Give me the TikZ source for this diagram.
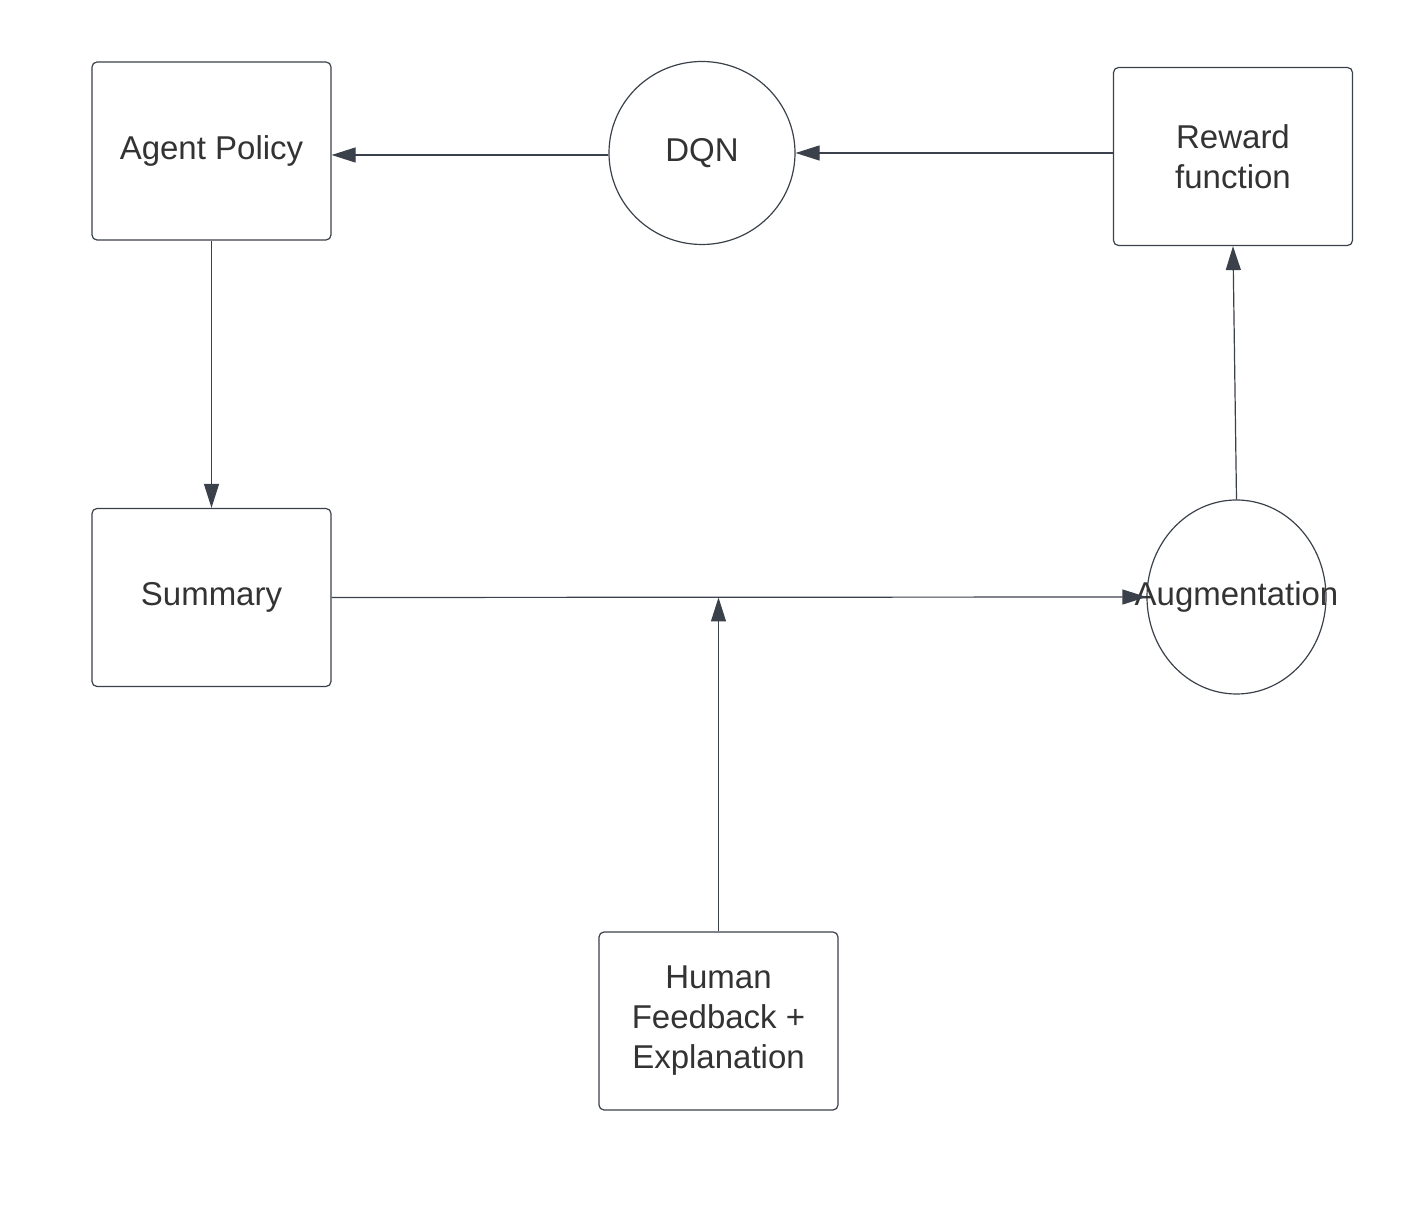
\documentclass[tikz,border=0pt]{standalone}
\usepackage{fontspec}
\setmainfont{Liberation Sans}
\usetikzlibrary{shapes.geometric,arrows.meta}
\definecolor{edge}{HTML}{3A414A}
\definecolor{txt}{HTML}{333333}
\begin{document}
\begin{tikzpicture}[x=0.5pt,y=-0.5pt,
  every node/.style={font=\fontsize{16.5}{20}\selectfont,text=txt},
  block/.style={draw=edge,line width=0.6pt,rounded corners=2.5pt,
    minimum width=119.5pt,minimum height=89pt,inner sep=0pt,align=center},
  round/.style={draw=edge,line width=0.6pt,ellipse,inner sep=0pt},
  flow/.style={draw=edge,line width=0.6pt,-{Triangle[length=12pt,width=7.5pt]}}]
  \useasboundingbox (0,0) rectangle (1426,1218);

  \node[block] (policy) at (211.5,151) {Agent Policy};
  \node[round,minimum width=93pt,minimum height=91.5pt] (dqn) at (702,153) {DQN};
  \node[block] (reward) at (1233,156.5) {Reward\\function};
  \node[block] (summary) at (211.5,597.5) {Summary};
  \node[round,minimum width=89.5pt,minimum height=97pt] (aug) at (1236.5,597)
    {\makebox[0pt][c]{Augmentation}};
  \node[block] (human) at (718.5,1021) {Human\\Feedback +\\Explanation};

  \coordinate (join) at (human.north |- summary.east);

  \draw[flow] ([yshift=-1pt]dqn.west) -- ([yshift=-1pt]policy.east |- dqn.west);
  \draw[flow] (reward.west |- dqn.east) -- (dqn.east);
  \draw[flow] (policy.south) -- (summary.north);
  \draw[flow] (summary.east) -- (aug.west);
  \draw[flow] (human.north) -- (join);
  \draw[flow] (aug.north) -- (reward.south);
\end{tikzpicture}
\end{document}
